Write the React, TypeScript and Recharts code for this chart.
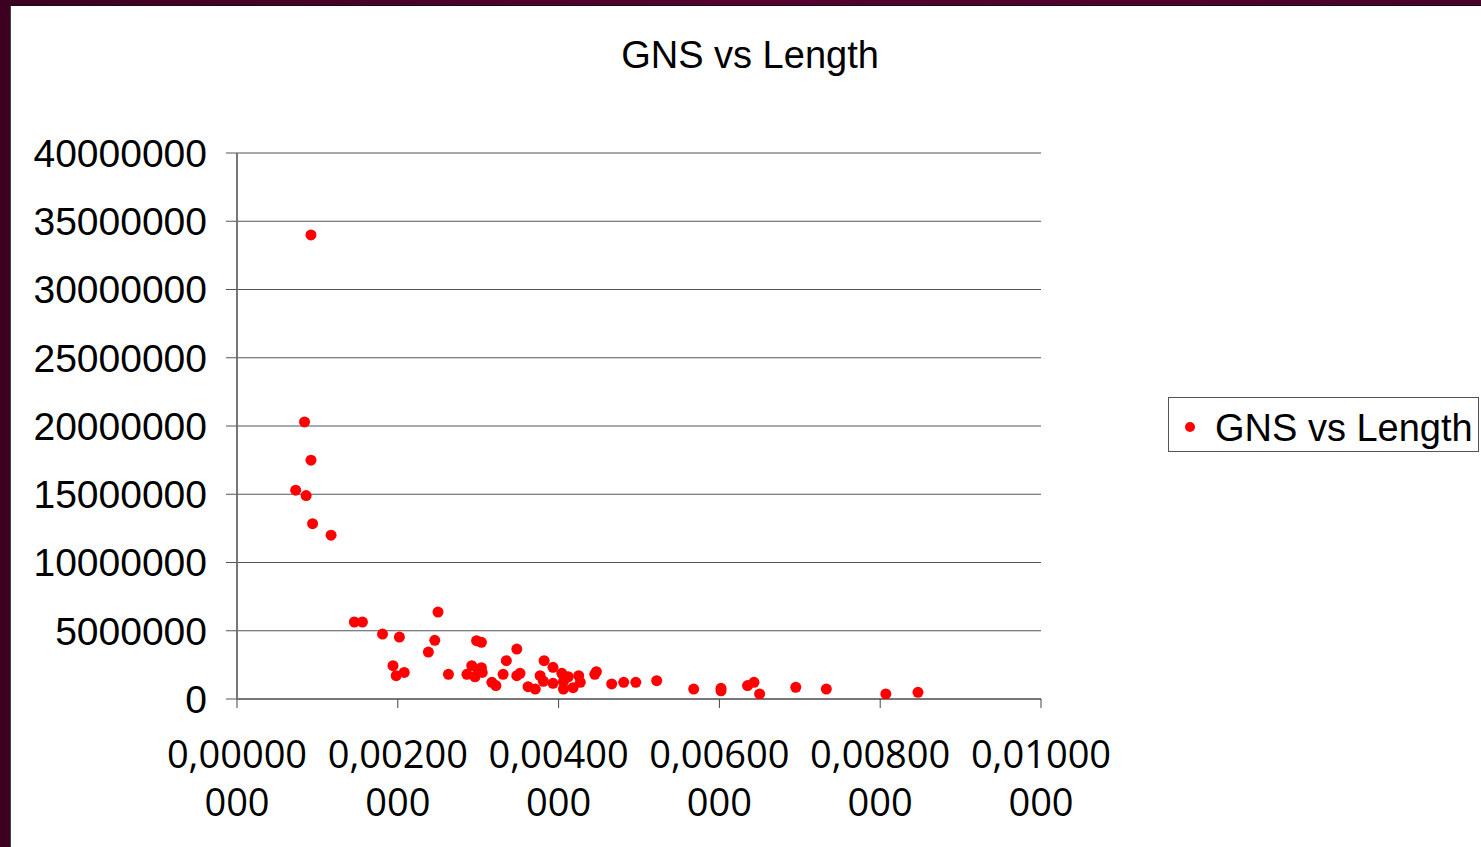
import React from "react";
import {
  ScatterChart,
  Scatter,
  XAxis,
  YAxis,
  CartesianGrid,
  Legend,
} from "recharts";

const seriesName = "GNS vs Length";
const chartTitle = "GNS vs Length";

const lengthValues = [
  0.00092, 0.00084, 0.00092, 0.00073, 0.00086, 0.00094, 0.00117, 0.00146,
  0.00156, 0.0025, 0.00181, 0.00202, 0.00246, 0.00238, 0.00298, 0.00304,
  0.00194, 0.00198, 0.00208, 0.00263, 0.00286, 0.00292, 0.00304, 0.00296,
  0.003, 0.00305, 0.00317, 0.00322, 0.00331, 0.00335, 0.00348, 0.00348,
  0.00352, 0.00362, 0.00371, 0.00377, 0.00381, 0.00382, 0.00393, 0.00393,
  0.00404, 0.00412, 0.00406, 0.00406, 0.00418, 0.00425, 0.00427, 0.00447,
  0.00445, 0.00466, 0.00481, 0.00496, 0.00522, 0.00568, 0.00602, 0.00602,
  0.00635, 0.00643, 0.0065, 0.00695, 0.00733, 0.00807, 0.00847,
];

const gnsValues = [
  34000000, 20300000, 17500000, 15300000, 14900000, 12840000, 12000000,
  5640000, 5640000, 6370000, 4760000, 4540000, 4300000, 3440000, 4270000,
  4150000, 2440000, 1710000, 1950000, 1810000, 1810000, 2440000, 2290000,
  1630000, 2000000, 1950000, 1220000, 980000, 1810000, 2810000, 3660000,
  1710000, 1880000, 900000, 730000, 1710000, 1300000, 2810000, 2320000,
  1150000, 1880000, 1630000, 1270000, 730000, 830000, 1710000, 1220000,
  2000000, 1810000, 1100000, 1220000, 1220000, 1340000, 730000, 780000,
  600000, 980000, 1220000, 370000, 860000, 730000, 370000, 490000,
];

const xTicks = [0, 0.002, 0.004, 0.006, 0.008, 0.01];
const yTicks = [
  0, 5000000, 10000000, 15000000, 20000000, 25000000, 30000000, 35000000,
  40000000,
];

const data = lengthValues.map((x, i) => ({ x, y: gnsValues[i] }));

const XTick = (props: any) => {
  const { x, y, payload } = props;
  const full = Number(payload.value).toFixed(8).replace(".", ",");
  const line1 = full.slice(0, 7);
  const line2 = full.slice(7);
  return (
    <text
      x={x}
      y={y}
      textAnchor="middle"
      fill="#000"
      fontFamily="'Open Sans', sans-serif"
      fontSize={38}
    >
      <tspan x={x} dy={58}>
        {line1}
      </tspan>
      <tspan x={x} dy={48}>
        {line2}
      </tspan>
    </text>
  );
};

const Dot = (props: any) => {
  const { cx, cy } = props;
  return <circle cx={cx} cy={cy} r={5.5} fill="#ff0000" />;
};

const LegendBox = () => (
  <svg width={311} height={55} style={{ display: "block" }}>
    <rect x={0.5} y={0.5} width={310} height={54} fill="#fff" stroke="#555" strokeWidth={1} />
    <circle cx={22} cy={30} r={5} fill="#ff0000" />
    <text
      x={47}
      y={44}
      fontFamily="'Liberation Sans', Arial, sans-serif"
      fontSize={38}
      fill="#000"
    >
      {seriesName}
    </text>
  </svg>
);

export default function App() {
  return (
    <div
      style={{
        position: "absolute",
        left: 0,
        top: 0,
        width: 1481,
        height: 847,
        overflow: "hidden",
        background: "linear-gradient(90deg, #3e0020 0%, #560030 50%, #4a0028 100%)",
      }}
    >
      <div
        style={{
          position: "absolute",
          left: 10,
          top: 5,
          right: 0,
          bottom: 0,
          background: "#fff",
          borderLeft: "1px solid #444",
          borderTop: "1px solid #111",
        }}
      />
      <div style={{ position: "absolute", left: 0, top: 0 }}>
        <ScatterChart
          width={1481}
          height={847}
          margin={{ top: 153, right: 440, bottom: 0, left: 0 }}
        >
          <text
            x={750}
            y={68}
            textAnchor="middle"
            fontFamily="'Liberation Sans', Arial, sans-serif"
            fontSize={38}
            fill="#000"
          >
            {chartTitle}
          </text>
          <CartesianGrid
            horizontal={true}
            vertical={false}
            stroke="#555"
            strokeWidth={1}
          />
          <XAxis
            type="number"
            dataKey="x"
            domain={[0, 0.01]}
            ticks={xTicks}
            interval={0}
            height={148}
            tickSize={9}
            tickMargin={2}
            axisLine={{ stroke: "#444" }}
            tickLine={{ stroke: "#444" }}
            tick={<XTick />}
            allowDataOverflow
          />
          <YAxis
            type="number"
            dataKey="y"
            domain={[0, 40000000]}
            ticks={yTicks}
            interval={0}
            width={237}
            tickSize={11}
            tickMargin={19}
            axisLine={{ stroke: "#777", strokeWidth: 2 }}
            tickLine={{ stroke: "#555" }}
            tick={{
              fill: "#000",
              fontSize: 39,
              fontFamily: "'Liberation Sans', Arial, sans-serif",
            }}
            allowDataOverflow
          />
          <Legend
            layout="horizontal"
            align="center"
            verticalAlign="middle"
            content={() => <LegendBox />}
            wrapperStyle={{ left: 1168, top: 397, width: 311, height: 55 }}
          />
          <Scatter
            name={seriesName}
            data={data}
            fill="#ff0000"
            shape={<Dot />}
            isAnimationActive={false}
          />
        </ScatterChart>
      </div>
    </div>
  );
}
